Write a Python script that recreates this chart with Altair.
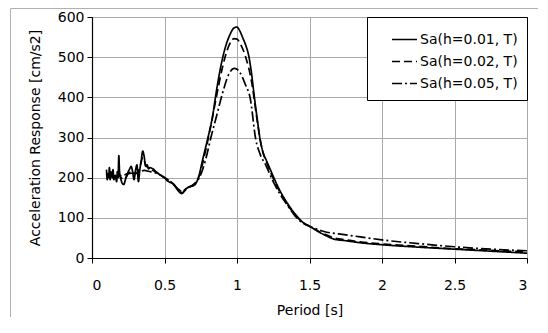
import altair as alt
import pandas as pd

names = ["Sa(h=0.01, T)", "Sa(h=0.02, T)", "Sa(h=0.05, T)"]

T_h001 = [0.10, 0.105, 0.11, 0.115, 0.12, 0.125, 0.13, 0.14, 0.145, 0.15, 0.16, 0.17, 0.175, 0.18,
          0.185, 0.19, 0.20, 0.21, 0.22, 0.23, 0.24, 0.25, 0.26, 0.27, 0.28, 0.29, 0.30, 0.31, 0.32,
          0.33, 0.34, 0.35, 0.36, 0.37, 0.38, 0.39, 0.40, 0.42, 0.45, 0.48, 0.50, 0.52, 0.54, 0.56,
          0.58, 0.60, 0.62, 0.64, 0.66, 0.68, 0.70, 0.72, 0.74, 0.76, 0.78, 0.80, 0.83, 0.86, 0.89,
          0.92, 0.95, 0.98, 1.00, 1.02, 1.04, 1.06, 1.08, 1.10, 1.12, 1.14, 1.16, 1.18, 1.20, 1.23,
          1.26, 1.30, 1.35, 1.40, 1.46, 1.50, 1.55, 1.60, 1.67, 1.75, 1.85, 2.00, 2.25, 2.50, 2.75, 3.00]
Sa_h001 = [220, 195, 210, 200, 225, 195, 215, 200, 220, 195, 205, 190, 215, 200,
           255, 215, 195, 185, 183, 195, 205, 215, 222, 228, 215, 195, 218, 232, 190,
           220, 245, 266, 252, 228, 232, 222, 225, 222, 212, 205, 200, 192, 188, 185,
           175, 165, 160, 170, 175, 178, 180, 188, 208, 240, 270, 300, 350, 420, 480,
           525, 555, 573, 575, 565, 548, 530, 505, 460, 400, 345, 294, 262, 245, 220,
           195, 165, 135, 110, 87, 79, 68, 58, 47, 43, 38, 33, 27, 22, 17, 12]

T_h002 = [0.10, 0.12, 0.15, 0.18, 0.20, 0.22, 0.25, 0.28, 0.30, 0.33, 0.35, 0.37, 0.40, 0.45,
          0.50, 0.55, 0.60, 0.62, 0.66, 0.70, 0.74, 0.78, 0.82, 0.86, 0.90, 0.94, 0.98, 1.00,
          1.02, 1.06, 1.10, 1.14, 1.16, 1.18, 1.20, 1.23, 1.26, 1.30, 1.35, 1.40, 1.46, 1.50,
          1.55, 1.60, 1.67, 1.75, 1.85, 2.00, 2.25, 2.50, 2.75, 3.00]
Sa_h002 = [205, 210, 205, 210, 200, 195, 210, 215, 210, 225, 250, 232, 222, 212,
           200, 188, 167, 162, 175, 182, 205, 262, 330, 405, 475, 525, 546, 545,
           535, 500, 440, 340, 294, 262, 242, 215, 190, 162, 132, 108, 87, 79,
           69, 60, 50, 45, 40, 35, 29, 23, 19, 15]

T_h005 = [0.10, 0.15, 0.20, 0.25, 0.30, 0.33, 0.36, 0.40, 0.45, 0.50, 0.55, 0.60, 0.62, 0.66,
          0.70, 0.74, 0.78, 0.82, 0.86, 0.90, 0.94, 0.98, 1.00, 1.02, 1.06, 1.09, 1.13, 1.16,
          1.20, 1.25, 1.30, 1.35, 1.40, 1.45, 1.50, 1.55, 1.60, 1.70, 1.80, 1.90, 2.00, 2.25,
          2.50, 2.75, 3.00]
Sa_h005 = [205, 205, 205, 210, 212, 215, 218, 215, 210, 200, 188, 170, 165, 175,
           183, 200, 240, 300, 355, 410, 455, 472, 470, 462, 430, 400, 294, 258,
           230, 190, 157, 130, 105, 88, 79, 72, 66, 60, 55, 50, 45, 36,
           28, 22, 18]

x_ticks = [0, 0.5, 1, 1.5, 2, 2.5, 3]
y_ticks = [0, 100, 200, 300, 400, 500, 600]

rows = []
for name, ts, vs in [(names[0], T_h001, Sa_h001), (names[1], T_h002, Sa_h002), (names[2], T_h005, Sa_h005)]:
    for i, (t, v) in enumerate(zip(ts, vs)):
        rows.append({"series": name, "T": t, "Sa": v, "i": i})
df = pd.DataFrame(rows)

FONT = "DejaVu Sans"

lines = alt.Chart(df).mark_line(strokeWidth=1.7, color="black", interpolate="monotone").encode(
    x=alt.X("T:Q", scale=alt.Scale(domain=[0, 3], nice=False),
            axis=alt.Axis(values=x_ticks, format="~g", title="Period [s]", grid=True,
                          labelPadding=15, titlePadding=11)),
    y=alt.Y("Sa:Q", scale=alt.Scale(domain=[0, 600], nice=False),
            axis=alt.Axis(values=y_ticks, title="Acceleration Response [cm/s2]", grid=True,
                          labelPadding=3, titlePadding=15)),
    strokeDash=alt.StrokeDash("series:N",
                              scale=alt.Scale(domain=names, range=[[1, 0], [8, 4], [10, 3, 2, 3]]),
                              sort=names,
                              legend=alt.Legend(title=None, orient="top-right", offset=0)),
    detail="series:N",
    order="i:Q",
)

frame_left = alt.Chart(pd.DataFrame({"a": [0]})).mark_rule(color="#b0b0b0", strokeWidth=1).encode(
    x=alt.value(-81.5), y=alt.value(-8.5), y2=alt.value(300))
frame_top = alt.Chart(pd.DataFrame({"a": [0]})).mark_rule(color="#b0b0b0", strokeWidth=1).encode(
    x=alt.value(-81.5), x2=alt.value(446), y=alt.value(-8.5))

chart = alt.layer(frame_left, frame_top, lines).properties(
    width=435, height=241,
    padding={"left": 2, "top": 0, "right": 0, "bottom": 0},
    background="white",
).configure_view(
    stroke="black", strokeWidth=1
).configure_axis(
    labelFont=FONT, labelFontSize=14, labelColor="black",
    titleFont=FONT, titleFontSize=14, titleFontWeight="normal", titleColor="black",
    domainColor="black", domainWidth=1.2, tickColor="black", tickSize=5,
    gridColor="#aaaaaa", gridWidth=1, gridOpacity=1,
).configure_legend(
    labelFont=FONT, labelFontSize=14, labelColor="black",
    strokeColor="black", fillColor="white", padding=9,
    symbolType="stroke", symbolSize=625, symbolStrokeWidth=1.6, symbolStrokeColor="black",
    symbolOffset=15, labelOffset=2, rowPadding=1,
)

chart.save("out.html", embed_options={"renderer": "svg", "actions": False})
